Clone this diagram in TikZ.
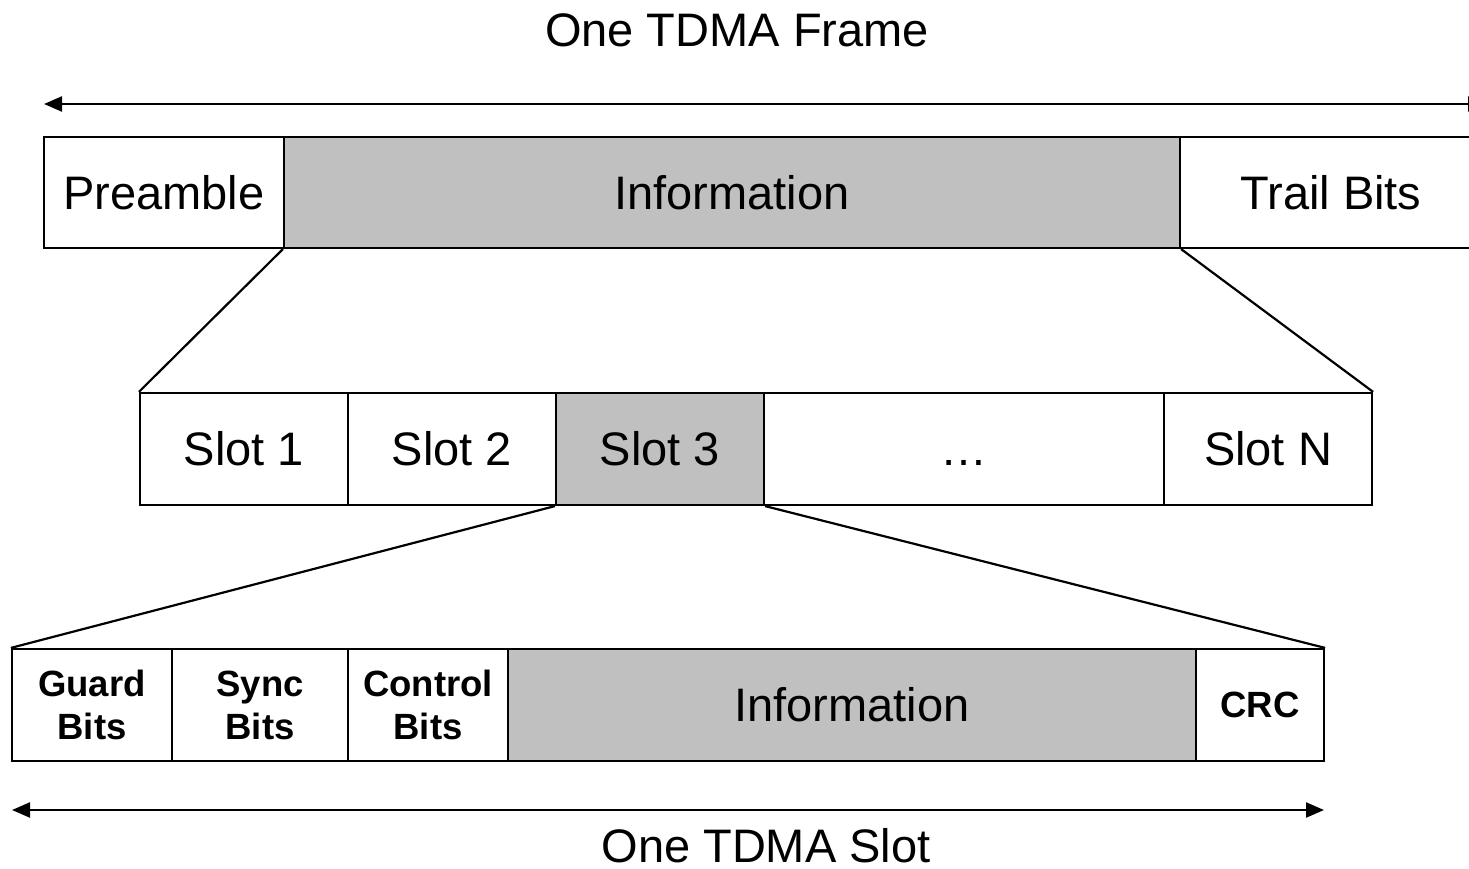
\documentclass[tikz,border=0pt]{standalone}
\usepackage{fontspec}
\setmainfont{Liberation Sans}
\usetikzlibrary{arrows.meta}
\definecolor{fieldgray}{RGB}{192,192,192}

\begin{document}
\begin{tikzpicture}[x=1pt,y=-1pt,
        field/.style={draw, line width=2.2pt, inner sep=0pt, align=center,
            font=\fontsize{47}{56}\selectfont},
        small/.style={field, font=\fontsize{36.5}{43}\selectfont\bfseries},
        span/.style={line width=2.2pt, {Triangle[length=18pt,width=15pt]}-{Triangle[length=18pt,width=15pt]}}]
        \clip (0,0) rectangle (1469,869);

        % frame
        \node[inner sep=0pt] at (737,30) (frame) {\fontsize{47}{56}\selectfont One TDMA Frame};
        \coordinate (frameL) at (44,104);
        \coordinate (frameR) at (1486,104);
        \draw[span] (frameL) -- (frameR);

        \node[field, minimum width=240, minimum height=111] at (164,192.5) (pre) {Preamble};
        \node[field, fill=fieldgray, minimum width=896, minimum height=111] at (732,192.5) (info) {Information};
        \node[field, minimum width=302, minimum height=111] at (1331,192.5) (trail) {Trail Bits};

        % slots
        \node[field, minimum width=208, minimum height=112] at (244,449) (s1) {Slot 1};
        \node[field, minimum width=208, minimum height=112] at (452,449) (s2) {Slot 2};
        \node[field, fill=fieldgray, minimum width=208, minimum height=112] at (660,449) (s3) {Slot 3};
        \node[field, minimum width=400, minimum height=112] at (964,449) (dots) {\vphantom{S}…};
        \node[field, minimum width=208, minimum height=112] at (1268,449) (sN) {Slot N};

        \draw[line width=2.2pt] (info.south west) -- (s1.north west);
        \draw[line width=2.2pt] (info.south east) -- (sN.north east);

        % one slot
        \node[small, minimum width=160, minimum height=112] at (92,705) (guard) {Guard\\Bits};
        \node[small, minimum width=176, minimum height=112] at (260,705) (sync) {Sync\\Bits};
        \node[small, minimum width=160, minimum height=112] at (428,705) (ctrl) {Control\\Bits};
        \node[field, fill=fieldgray, minimum width=688, minimum height=112] at (852,705) (info2) {Information};
        \node[small, minimum width=128, minimum height=112] at (1260,705) (crc) {CRC};

        \draw[line width=2.2pt] (s3.south west) -- (guard.north west);
        \draw[line width=2.2pt] (s3.south east) -- (crc.north east);

        \coordinate (slotL) at (12,810);
        \coordinate (slotR) at (1324,810);
        \draw[span] (slotL) -- (slotR);
        \node[inner sep=0pt] at (766,846) (slot) {\fontsize{47}{56}\selectfont One TDMA Slot};
\end{tikzpicture}
\end{document}
